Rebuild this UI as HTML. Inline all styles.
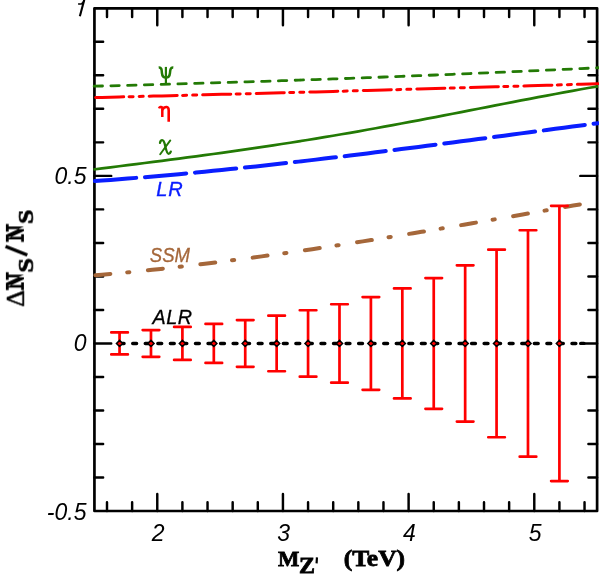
<!DOCTYPE html>
<html><head><meta charset="utf-8"><title>chart</title>
<style>
html,body{margin:0;padding:0;background:#fff;}
body{width:599px;height:582px;overflow:hidden;}
svg{display:block;}
.tk{font-family:"Liberation Sans",sans-serif;font-style:italic;font-size:23px;fill:#000;}
.lb{font-family:"Liberation Sans",sans-serif;font-style:italic;}
</style></head><body>
<svg width="599" height="582" viewBox="0 0 599 582">
<rect width="599" height="582" fill="#fff"/>
<g style="will-change:transform">

<rect x="94.43" y="8.30" width="502.68" height="502.72" fill="none" stroke="#000" stroke-width="2.7" stroke-linejoin="round"/>
<path d="M107.00,8.30 v8.7 M107.00,511.02 v-8.7 M132.13,8.30 v8.7 M132.13,511.02 v-8.7 M157.27,8.30 v17.0 M157.27,511.02 v-17.0 M182.40,8.30 v8.7 M182.40,511.02 v-8.7 M207.53,8.30 v8.7 M207.53,511.02 v-8.7 M232.67,8.30 v8.7 M232.67,511.02 v-8.7 M257.80,8.30 v8.7 M257.80,511.02 v-8.7 M282.94,8.30 v17.0 M282.94,511.02 v-17.0 M308.07,8.30 v8.7 M308.07,511.02 v-8.7 M333.20,8.30 v8.7 M333.20,511.02 v-8.7 M358.34,8.30 v8.7 M358.34,511.02 v-8.7 M383.47,8.30 v8.7 M383.47,511.02 v-8.7 M408.61,8.30 v17.0 M408.61,511.02 v-17.0 M433.74,8.30 v8.7 M433.74,511.02 v-8.7 M458.87,8.30 v8.7 M458.87,511.02 v-8.7 M484.01,8.30 v8.7 M484.01,511.02 v-8.7 M509.14,8.30 v8.7 M509.14,511.02 v-8.7 M534.28,8.30 v17.0 M534.28,511.02 v-17.0 M559.41,8.30 v8.7 M559.41,511.02 v-8.7 M584.54,8.30 v8.7 M584.54,511.02 v-8.7 M94.43,477.51 h8.7 M597.11,477.51 h-8.7 M94.43,444.00 h8.7 M597.11,444.00 h-8.7 M94.43,410.48 h8.7 M597.11,410.48 h-8.7 M94.43,376.97 h8.7 M597.11,376.97 h-8.7 M94.43,343.45 h16.8 M597.11,343.45 h-16.8 M94.43,309.93 h8.7 M597.11,309.93 h-8.7 M94.43,276.42 h8.7 M597.11,276.42 h-8.7 M94.43,242.90 h8.7 M597.11,242.90 h-8.7 M94.43,209.39 h8.7 M597.11,209.39 h-8.7 M94.43,175.88 h16.8 M597.11,175.88 h-16.8 M94.43,142.36 h8.7 M597.11,142.36 h-8.7 M94.43,108.84 h8.7 M597.11,108.84 h-8.7 M94.43,75.33 h8.7 M597.11,75.33 h-8.7 M94.43,41.81 h8.7 M597.11,41.81 h-8.7" fill="none" stroke="#000" stroke-width="2.45" stroke-linecap="round"/>
<path d="M93.43,275.48 L101.85,274.74 L110.26,273.98 L118.68,273.19 L127.10,272.38 L135.51,271.54 L143.93,270.68 L152.35,269.80 L160.76,268.89 L169.18,267.96 L177.59,267.01 L186.01,266.04 L194.43,265.04 L202.84,264.03 L211.26,262.99 L219.68,261.94 L228.09,260.86 L236.51,259.77 L244.93,258.66 L253.34,257.53 L261.76,256.38 L270.18,255.21 L278.59,254.03 L287.01,252.83 L295.42,251.62 L303.84,250.39 L312.26,249.15 L320.67,247.89 L329.09,246.61 L337.51,245.33 L345.92,244.03 L354.34,242.72 L362.76,241.39 L371.17,240.05 L379.59,238.71 L388.01,237.35 L396.42,235.98 L404.84,234.60 L413.25,233.21 L421.67,231.81 L430.09,230.41 L438.50,228.99 L446.92,227.57 L455.34,226.14 L463.75,224.70 L472.17,223.26 L480.59,221.81 L489.00,220.35 L497.42,218.89 L505.84,217.43 L514.25,215.96 L522.67,214.49 L531.08,213.01 L539.50,211.53 L547.92,210.05 L556.33,208.57 L564.75,207.08 L573.17,205.59 L581.58,204.11 L590.00,202.62" fill="none" stroke="#a5673a" stroke-width="4" stroke-linecap="round" stroke-dasharray="15.0 16.9 2.2 18.65" stroke-dashoffset="-2"/>
<path d="M93.43,86.23 L101.98,86.02 L110.54,85.80 L119.09,85.58 L127.65,85.35 L136.20,85.12 L144.75,84.89 L153.31,84.65 L161.86,84.42 L170.42,84.17 L178.97,83.93 L187.52,83.68 L196.08,83.43 L204.63,83.17 L213.18,82.91 L221.74,82.65 L230.29,82.38 L238.85,82.12 L247.40,81.84 L255.95,81.57 L264.51,81.29 L273.06,81.01 L281.62,80.72 L290.17,80.43 L298.72,80.14 L307.28,79.84 L315.83,79.54 L324.39,79.24 L332.94,78.93 L341.49,78.62 L350.05,78.31 L358.60,77.99 L367.15,77.67 L375.71,77.35 L384.26,77.02 L392.82,76.69 L401.37,76.36 L409.92,76.02 L418.48,75.68 L427.03,75.34 L435.59,74.99 L444.14,74.64 L452.69,74.29 L461.25,73.93 L469.80,73.57 L478.36,73.21 L486.91,72.84 L495.46,72.47 L504.02,72.10 L512.57,71.72 L521.12,71.34 L529.68,70.96 L538.23,70.57 L546.79,70.18 L555.34,69.79 L563.89,69.39 L572.45,68.99 L581.00,68.58 L589.56,68.18 L598.11,67.76" fill="none" stroke="#237a05" stroke-width="2.8" stroke-linecap="round" stroke-dasharray="8.4 8.36" stroke-dashoffset="-0.7"/>
<path d="M93.43,97.60 L101.98,97.39 L110.54,97.18 L119.09,96.97 L127.65,96.76 L136.20,96.55 L144.75,96.33 L153.31,96.12 L161.86,95.90 L170.42,95.69 L178.97,95.47 L187.52,95.25 L196.08,95.03 L204.63,94.82 L213.18,94.59 L221.74,94.37 L230.29,94.15 L238.85,93.93 L247.40,93.70 L255.95,93.48 L264.51,93.25 L273.06,93.03 L281.62,92.80 L290.17,92.57 L298.72,92.34 L307.28,92.11 L315.83,91.88 L324.39,91.65 L332.94,91.41 L341.49,91.18 L350.05,90.94 L358.60,90.71 L367.15,90.47 L375.71,90.23 L384.26,89.99 L392.82,89.75 L401.37,89.51 L409.92,89.27 L418.48,89.03 L427.03,88.79 L435.59,88.54 L444.14,88.30 L452.69,88.05 L461.25,87.80 L469.80,87.56 L478.36,87.31 L486.91,87.06 L495.46,86.81 L504.02,86.56 L512.57,86.30 L521.12,86.05 L529.68,85.80 L538.23,85.54 L546.79,85.28 L555.34,85.03 L563.89,84.77 L572.45,84.51 L581.00,84.25 L589.56,83.99 L598.11,83.73" fill="none" stroke="#ff0000" stroke-width="3.0" stroke-linecap="round" stroke-dasharray="28.05 5.4 4.0 6.1 4.0 6.0" stroke-dashoffset="-2.2"/>
<path d="M93.43,169.51 L101.98,168.41 L110.54,167.32 L119.09,166.24 L127.65,165.16 L136.20,164.07 L144.75,162.98 L153.31,161.89 L161.86,160.79 L170.42,159.69 L178.97,158.57 L187.52,157.45 L196.08,156.31 L204.63,155.16 L213.18,153.99 L221.74,152.81 L230.29,151.62 L238.85,150.40 L247.40,149.17 L255.95,147.92 L264.51,146.64 L273.06,145.35 L281.62,144.04 L290.17,142.71 L298.72,141.35 L307.28,139.98 L315.83,138.58 L324.39,137.17 L332.94,135.73 L341.49,134.27 L350.05,132.80 L358.60,131.30 L367.15,129.78 L375.71,128.25 L384.26,126.70 L392.82,125.13 L401.37,123.54 L409.92,121.94 L418.48,120.33 L427.03,118.70 L435.59,117.07 L444.14,115.42 L452.69,113.76 L461.25,112.10 L469.80,110.44 L478.36,108.77 L486.91,107.10 L495.46,105.43 L504.02,103.76 L512.57,102.10 L521.12,100.45 L529.68,98.80 L538.23,97.17 L546.79,95.56 L555.34,93.96 L563.89,92.38 L572.45,90.82 L581.00,89.29 L589.56,87.79 L598.11,86.32" fill="none" stroke="#237a05" stroke-width="2.7"/>
<path d="M93.43,181.14 L101.98,180.53 L110.54,179.89 L119.09,179.24 L127.65,178.57 L136.20,177.88 L144.75,177.16 L153.31,176.44 L161.86,175.69 L170.42,174.92 L178.97,174.14 L187.52,173.34 L196.08,172.53 L204.63,171.70 L213.18,170.85 L221.74,169.99 L230.29,169.11 L238.85,168.22 L247.40,167.32 L255.95,166.40 L264.51,165.47 L273.06,164.53 L281.62,163.57 L290.17,162.60 L298.72,161.62 L307.28,160.63 L315.83,159.63 L324.39,158.61 L332.94,157.59 L341.49,156.56 L350.05,155.52 L358.60,154.47 L367.15,153.41 L375.71,152.34 L384.26,151.27 L392.82,150.19 L401.37,149.10 L409.92,148.01 L418.48,146.91 L427.03,145.80 L435.59,144.69 L444.14,143.58 L452.69,142.46 L461.25,141.33 L469.80,140.21 L478.36,139.08 L486.91,137.94 L495.46,136.81 L504.02,135.67 L512.57,134.53 L521.12,133.39 L529.68,132.25 L538.23,131.11 L546.79,129.97 L555.34,128.83 L563.89,127.69 L572.45,126.55 L581.00,125.41 L589.56,124.28 L598.11,123.15" fill="none" stroke="#0a1eff" stroke-width="4" stroke-linecap="round" stroke-dasharray="41.4 8.8" stroke-dashoffset="-1.5"/>
<path d="M120.2,343.45 L578,343.45" fill="none" stroke="#000" stroke-width="3.5" stroke-linecap="round" stroke-dasharray="3.8 8.75"/>
<path d="M580.9,343.45 L584.0,343.45" fill="none" stroke="#000" stroke-width="3.3" stroke-linecap="round"/>
<path d="M119.56,332.45 V354.45 M111.26,332.45 h16.6 M111.26,354.45 h16.6 M150.98,330.05 V356.85 M142.68,330.05 h16.6 M142.68,356.85 h16.6 M182.40,326.95 V359.95 M174.10,326.95 h16.6 M174.10,359.95 h16.6 M213.82,323.95 V362.95 M205.52,323.95 h16.6 M205.52,362.95 h16.6 M245.23,320.05 V366.85 M236.93,320.05 h16.6 M236.93,366.85 h16.6 M276.65,315.65 V371.25 M268.35,315.65 h16.6 M268.35,371.25 h16.6 M308.07,310.25 V376.65 M299.77,310.25 h16.6 M299.77,376.65 h16.6 M339.49,304.25 V382.65 M331.19,304.25 h16.6 M331.19,382.65 h16.6 M370.90,297.05 V389.85 M362.60,297.05 h16.6 M362.60,389.85 h16.6 M402.32,288.45 V398.45 M394.02,288.45 h16.6 M394.02,398.45 h16.6 M433.74,278.05 V408.85 M425.44,278.05 h16.6 M425.44,408.85 h16.6 M465.16,265.35 V421.55 M456.86,265.35 h16.6 M456.86,421.55 h16.6 M496.57,249.65 V437.25 M488.27,249.65 h16.6 M488.27,437.25 h16.6 M527.99,230.25 V456.65 M519.69,230.25 h16.6 M519.69,456.65 h16.6 M559.41,205.85 V481.05 M551.11,205.85 h16.6 M551.11,481.05 h16.6" fill="none" stroke="#ff0000" stroke-width="2.7" stroke-linecap="round"/>
<path d="M116.46,343.45 L119.56,340.35 L122.66,343.45 L119.56,346.55 Z M147.88,343.45 L150.98,340.35 L154.08,343.45 L150.98,346.55 Z M179.30,343.45 L182.40,340.35 L185.50,343.45 L182.40,346.55 Z M210.72,343.45 L213.82,340.35 L216.92,343.45 L213.82,346.55 Z M242.13,343.45 L245.23,340.35 L248.33,343.45 L245.23,346.55 Z M273.55,343.45 L276.65,340.35 L279.75,343.45 L276.65,346.55 Z M304.97,343.45 L308.07,340.35 L311.17,343.45 L308.07,346.55 Z M336.39,343.45 L339.49,340.35 L342.59,343.45 L339.49,346.55 Z M367.80,343.45 L370.90,340.35 L374.00,343.45 L370.90,346.55 Z M399.22,343.45 L402.32,340.35 L405.42,343.45 L402.32,346.55 Z M430.64,343.45 L433.74,340.35 L436.84,343.45 L433.74,346.55 Z M462.06,343.45 L465.16,340.35 L468.26,343.45 L465.16,346.55 Z M493.47,343.45 L496.57,340.35 L499.67,343.45 L496.57,346.55 Z M524.89,343.45 L527.99,340.35 L531.09,343.45 L527.99,346.55 Z M556.31,343.45 L559.41,340.35 L562.51,343.45 L559.41,346.55 Z" fill="#ff0000" stroke="#000" stroke-width="1.5"/>
<text class="tk" x="86.5" y="183.88" text-anchor="end">0.5</text>
<text class="tk" x="86.5" y="351.45" text-anchor="end">0</text>
<text class="tk" x="86.5" y="519.92" text-anchor="end">-0.5</text>
<text class="tk" x="158.07" y="541.0" text-anchor="middle">2</text>
<text class="tk" x="283.74" y="541.0" text-anchor="middle">3</text>
<text class="tk" x="409.41" y="541.0" text-anchor="middle">4</text>
<text class="tk" x="535.08" y="541.0" text-anchor="middle">5</text>
<path d="M84.35,-0.5 L79.85,16.3" stroke="#000" stroke-width="2.1" fill="none"/><path d="M78.1,4.0 L81.3,3.85 C82.8,3.6 83.6,2.2 84.3,-0.5" stroke="#000" stroke-width="1.6" fill="none"/>
<g fill="none" stroke="#237a05" stroke-linecap="butt"><path d="M158.7,67.6 C161.8,67.3 161.7,70.3 161.9,72.8 C162.2,76.1 163.6,77.6 165.9,77.6 C168.2,77.6 169.7,76.1 170.0,72.8 C170.2,70.3 170.3,67.3 173.3,67.6" stroke-width="2.5"/><path d="M165.9,66.9 V84" stroke-width="2.2"/></g>
<g fill="none" stroke="#237a05" stroke-linecap="round" stroke-linejoin="round"><path d="M160.0,142.9 C160.3,141.0 161.2,140.1 162.2,140.1 C163.6,140.1 164.3,141.8 165.1,145.6 C166.1,150.2 166.9,153.8 168.6,153.8 C169.7,153.8 170.4,152.8 170.8,151.6" stroke-width="2.3"/><path d="M170.3,140.4 L160.2,154.2" stroke-width="1.9"/></g>
<g fill="none" stroke="#ff0000" stroke-linecap="butt" stroke-linejoin="round"><path d="M159.0,108.4 C159.6,106.9 161.2,106.6 162.3,107.4 V117.0" stroke-width="2.5"/><path d="M162.3,109.8 C163.6,107.6 165.4,106.9 166.7,107.0 C168.2,107.2 168.7,108.6 168.7,110.5 V121.8" stroke-width="2.6"/></g>
<text class="lb" x="156.2" y="195.7" font-size="20" fill="#0a1eff" stroke="#0a1eff" stroke-width="0.35" letter-spacing="1.0">LR</text>
<text transform="matrix(0.1851,0,0,0.1977,149.83,262.15)" style="font-family:'Liberation Sans',sans-serif;font-style:italic;font-size:100.0px" fill="#a5673a" stroke="#a5673a" stroke-width="1.567">SSM</text>
<text class="lb" x="152.6" y="324.35" font-size="19.8" fill="#000" stroke="#000" stroke-width="0.3" letter-spacing="0.45">ALR</text>
<text transform="matrix(0.2261,0,0,0.2198,278.02,565.60)" style="font-family:'Liberation Serif',serif;font-weight:bold;font-size:100.0px" fill="#000" stroke="#000" stroke-width="3.588">M</text>
<text transform="matrix(0.2394,0,0,0.2244,298.95,572.60)" style="font-family:'Liberation Serif',serif;font-weight:bold;font-size:100.0px" fill="#000" stroke="#000" stroke-width="3.449">Z</text>
<path d="M316.95,557.4 L316.6,563.4" stroke="#000" stroke-width="2.2" fill="none"/>
<text transform="matrix(0.2549,0,0,0.2359,343.68,565.87)" style="font-family:'Liberation Serif',serif;font-weight:bold;font-size:100.0px" fill="#000" stroke="#000" stroke-width="3.260">(TeV)</text>
<g transform="translate(23.9,306.4) rotate(-90)">
<text transform="matrix(0.2610,0,0,0.2591,-0.44,-0.25)" style="font-family:'Liberation Serif',serif;font-size:100.0px" fill="#000" stroke="#000" stroke-width="1.923">Δ</text>
<path d="M18.80,0.00 H21.40 V-18.10 H18.80 Z M16.30,0.00 H24.00 V-2.80 H16.30 Z M16.30,-15.30 H21.40 V-18.10 H16.30 Z M29.10,0.00 H31.70 V-18.10 H29.10 Z M26.50,-15.30 H34.20 V-18.10 H26.50 Z M18.80,-18.10 L23.40,-18.10 L31.70,0 L27.10,0 Z" fill="#000"/>
<text transform="matrix(0.2603,0,0,0.2128,33.82,8.99)" style="font-family:'Liberation Serif',serif;font-weight:bold;font-size:100.0px" fill="#000" stroke="#000" stroke-width="3.382">S</text>
<path d="M51.4,3.4 L60.0,-18.3" stroke="#000" stroke-width="3.3" fill="none"/>
<path d="M67.00,0.00 H69.60 V-18.10 H67.00 Z M64.50,0.00 H72.20 V-2.80 H64.50 Z M64.50,-15.30 H69.60 V-18.10 H64.50 Z M77.30,0.00 H79.90 V-18.10 H77.30 Z M74.70,-15.30 H82.40 V-18.10 H74.70 Z M67.00,-18.10 L71.60,-18.10 L79.90,0 L75.30,0 Z" fill="#000"/>
<text transform="matrix(0.2560,0,0,0.2128,82.54,8.99)" style="font-family:'Liberation Serif',serif;font-weight:bold;font-size:100.0px" fill="#000" stroke="#000" stroke-width="3.413">S</text>
</g>
</g></svg></body></html>
